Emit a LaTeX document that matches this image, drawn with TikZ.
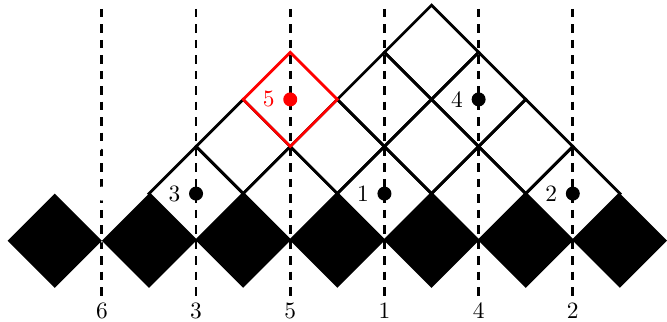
\documentclass[tikz,border=0pt]{standalone}
\begin{document}
\begin{tikzpicture}[x=0.7071cm,y=0.7071cm,
  sq/.style={very thick,line join=miter},
  vline/.style={very thick,dash pattern=on 3.6pt off 3pt},
  dot/.style={circle,fill,inner sep=0pt,minimum size=0.21cm},
]
\useasboundingbox (-2.163,-1.726) rectangle (12,5.111);
% dashed lines with bottom labels
\foreach \x/\l in {0/6,2/3,4/5,6/1,8/4,10/2}{
  \node (b\l) at (\x,-1.49) {\l};
  \coordinate (t\l) at (\x,4.92);
  \draw[vline] (t\l) -- (\x,-1.21);
}
% white (invisible) square
\draw[sq,white] (-1,1) -- (0,2) -- (1,1) -- (0,0) -- cycle;
\node[dot,white,label={[white]left:6}] (p6) at (0,1) {};
% black diamonds
\foreach \i in {-1,1,...,11}
  \fill (\i-1,0) -- (\i,1) -- (\i+1,0) -- (\i,-1) -- cycle;
% grid squares
\foreach \i/\j in {2/1,4/1,6/1,8/1,10/1,3/2,5/2,7/2,9/2,6/3,8/3,7/4}
  \draw[sq] (\i-1,\j) -- (\i,\j+1) -- (\i+1,\j) -- (\i,\j-1) -- cycle;
% red square
\draw[sq,red] (3,3) -- (4,4) -- (5,3) -- (4,2) -- cycle;
% dots
\node[dot,label={left:3}] (p3) at (2,1) {};
\node[dot,label={left:1}] (p1) at (6,1) {};
\node[dot,label={left:2}] (p2) at (10,1) {};
\node[dot,label={left:4}] (p4) at (8,3) {};
\node[dot,red,label={[red]left:5}] (p5) at (4,3) {};
\end{tikzpicture}
\end{document}
